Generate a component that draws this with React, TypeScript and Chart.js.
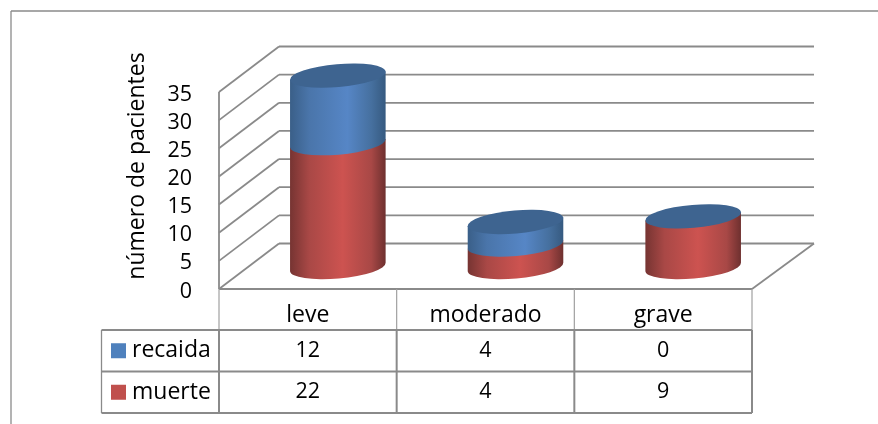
import React, { useEffect, useRef } from "react";
import { Chart, registerables } from "chart.js";

Chart.register(...registerables);

const categories = ["leve", "moderado", "grave"];
const recaida = [12, 4, 0];
const muerte = [22, 4, 9];
const yTicks = [0, 5, 10, 15, 20, 25, 30, 35];
const yTitle = "número de pacientes";

const FONT = '"Open Sans", sans-serif';
const TEXT_SIZE = 23;
const DIGIT_SIZE = 21.5;
const LINE = "#8a8a8a";

// Oblique projection of the 3D box
const WALL_DX = 60;
const WALL_DY = -45.5;
const FLOOR_DX = 62;
const BAR_DX = 30;
const BAR_DY = -22;
const TILT = (5 * Math.PI) / 180;
const CAP_RY = 11.5;

const blueStops: [number, string][] = [
  [0, "#3a5f88"],
  [0.2, "#4a75aa"],
  [0.6, "#5686c6"],
  [0.85, "#46709f"],
  [1, "#365a80"],
];
const redStops: [number, string][] = [
  [0, "#763432"],
  [0.2, "#a94846"],
  [0.55, "#cd5350"],
  [0.85, "#a84846"],
  [1, "#6e302f"],
];
const CAP_COLOR = "#3e6490";

function line(ctx: CanvasRenderingContext2D, x1: number, y1: number, x2: number, y2: number, w = 1.8, color = LINE) {
  ctx.strokeStyle = color;
  ctx.lineWidth = w;
  ctx.beginPath();
  ctx.moveTo(x1, y1);
  ctx.lineTo(x2, y2);
  ctx.stroke();
}

// One stacked segment of a cylinder: the side surface between two elevations
function drawSide(ctx: CanvasRenderingContext2D, bar: any, stops: [number, string][]) {
  const cx = bar.x + BAR_DX;
  const rx = bar.width / 2;
  const topY = bar.y + BAR_DY;
  const baseY = bar.base + BAR_DY;
  if (Math.abs(baseY - topY) < 0.5) return;
  const ox = rx * Math.cos(TILT);
  const oy = rx * Math.sin(TILT);
  const g = ctx.createLinearGradient(cx - ox, 0, cx + ox, 0);
  stops.forEach(([p, c]) => g.addColorStop(p, c));
  ctx.fillStyle = g;
  ctx.beginPath();
  ctx.moveTo(cx + ox, topY - oy);
  ctx.lineTo(cx + ox, baseY - oy);
  ctx.ellipse(cx, baseY, rx, CAP_RY, -TILT, 0, Math.PI);
  ctx.lineTo(cx - ox, topY + oy);
  ctx.closePath();
  ctx.fill();
}

function drawCap(ctx: CanvasRenderingContext2D, bar: any) {
  ctx.fillStyle = CAP_COLOR;
  ctx.beginPath();
  ctx.ellipse(bar.x + BAR_DX, bar.y + BAR_DY, bar.width / 2, CAP_RY, -TILT, 0, Math.PI * 2);
  ctx.fill();
}

const box3d = {
  id: "box3d",
  beforeDraw(chart: any) {
    const { ctx, chartArea: a, scales } = chart;
    ctx.save();
    // frame around the chart
    line(ctx, 11, 11, 878, 11, 1.3);
    line(ctx, 11, 11, 11, 424, 1.3);

    // side wall, back wall and floor
    line(ctx, a.left, a.top, a.left, a.bottom);
    yTicks.forEach((t) => {
      const y = scales.y.getPixelForValue(t);
      line(ctx, a.left, y, a.left + WALL_DX, y + WALL_DY);
      line(ctx, a.left + WALL_DX, y + WALL_DY, a.right + FLOOR_DX, y + WALL_DY);
    });
    line(ctx, a.right, a.bottom, a.right + FLOOR_DX, a.bottom + WALL_DY);

    // axis title
    ctx.fillStyle = "#000";
    ctx.font = `${TEXT_SIZE}px ${FONT}`;
    ctx.textAlign = "center";
    ctx.textBaseline = "middle";
    ctx.translate(137, 166);
    ctx.rotate(-Math.PI / 2);
    ctx.fillText(yTitle, 0, 0);
    ctx.restore();
  },
  beforeDatasetDraw() {
    // the flat bars are replaced by the cylinders below
    return false;
  },
  afterDatasetsDraw(chart: any) {
    const { ctx } = chart;
    const lower = chart.getDatasetMeta(0).data;
    const upper = chart.getDatasetMeta(1).data;
    ctx.save();
    lower.forEach((bar: any) => drawSide(ctx, bar, redStops));
    upper.forEach((bar: any) => drawSide(ctx, bar, blueStops));
    upper.forEach((bar: any) => drawCap(ctx, bar));
    ctx.restore();
  },
  afterDraw(chart: any) {
    const { ctx, chartArea: a, scales } = chart;
    const rowTop = 330;
    const rowH = 41.5;
    const keyLeft = 101.5;
    const rows = [
      { label: "recaida", values: recaida, color: "#4f81bd" },
      { label: "muerte", values: muerte, color: "#c0504d" },
    ];
    const step = (a.right - a.left) / categories.length;
    const tableBottom = rowTop + rowH * rows.length;
    ctx.save();

    line(ctx, a.left, a.bottom, a.right, a.bottom, 1.8);
    for (let i = 0; i <= categories.length; i++) {
      const x = a.left + step * i;
      line(ctx, x, a.bottom, x, rowTop, 1.2, "#a0a0a0");
      line(ctx, x, rowTop, x, tableBottom, 2);
    }
    for (let i = 0; i <= rows.length; i++) {
      const y = rowTop + rowH * i;
      line(ctx, keyLeft, y, a.right, y, 1.8);
    }
    line(ctx, keyLeft, rowTop, keyLeft, tableBottom, 1.3);

    ctx.textBaseline = "middle";
    rows.forEach((row, r) => {
      const cy = rowTop + rowH * r + rowH / 2;
      ctx.fillStyle = row.color;
      ctx.fillRect(111, cy - 7.5, 15, 15);
      ctx.fillStyle = "#000";
      ctx.font = `${TEXT_SIZE}px ${FONT}`;
      ctx.textAlign = "left";
      ctx.fillText(row.label, 132, cy);
      ctx.font = `${DIGIT_SIZE}px ${FONT}`;
      ctx.textAlign = "center";
      row.values.forEach((v, i) => {
        ctx.fillText(String(v), scales.x.getPixelForTick(i), cy);
      });
    });
    ctx.restore();
  },
};

export default function App() {
  const ref = useRef<HTMLCanvasElement>(null);

  useEffect(() => {
    const chart = new Chart(ref.current!, {
      type: "bar",
      data: {
        labels: categories,
        datasets: [
          { label: "muerte", data: muerte, backgroundColor: "#c0504d" },
          { label: "recaida", data: recaida, backgroundColor: "#4f81bd" },
        ],
      },
      options: {
        animation: false,
        responsive: false,
        events: [],
        layout: { autoPadding: false, padding: { left: 0, top: 92, right: 126, bottom: 0 } },
        datasets: { bar: { categoryPercentage: 1, barPercentage: 0.54 } },
        plugins: { legend: { display: false }, title: { display: false }, tooltip: { enabled: false } },
        scales: {
          x: {
            stacked: true,
            grid: { display: false },
            border: { display: false },
            afterFit: (s: any) => {
              s.height = 135;
            },
            ticks: {
              color: "#000",
              font: { family: FONT, size: TEXT_SIZE },
              padding: 5,
              maxRotation: 0,
              autoSkip: false,
            },
          },
          y: {
            stacked: true,
            min: 0,
            max: 35,
            grid: { display: false },
            border: { display: false },
            afterFit: (s: any) => {
              s.width = 219;
            },
            afterBuildTicks: (s: any) => {
              s.ticks = yTicks.map((value) => ({ value }));
            },
            ticks: {
              color: "#000",
              font: { family: FONT, size: DIGIT_SIZE },
              padding: 19,
              labelOffset: 2.5,
              autoSkip: false,
            },
          },
        },
      } as any,
      plugins: [box3d as any],
    });
    return () => chart.destroy();
  }, []);

  return (
    <div style={{ position: "fixed", left: 0, top: 0, width: 878, height: 424, background: "#fff" }}>
      <canvas ref={ref} width={878} height={424} style={{ display: "block" }} />
    </div>
  );
}
